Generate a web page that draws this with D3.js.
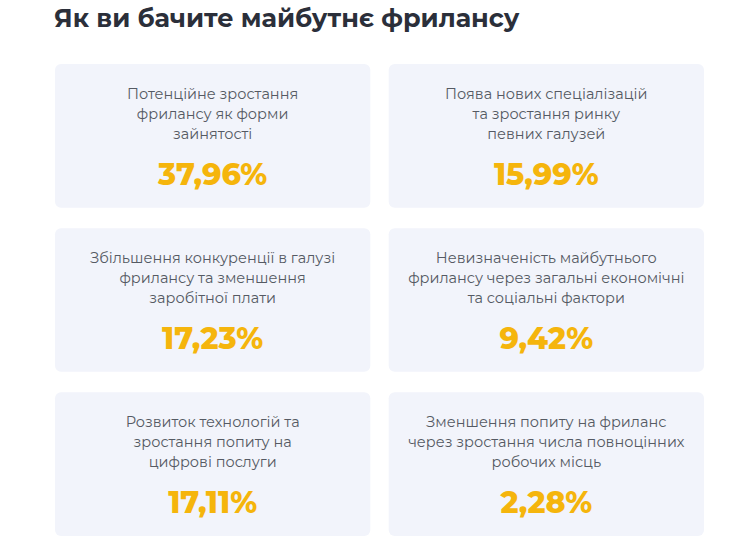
<!DOCTYPE html><html><head><meta charset="utf-8">
<script src="https://cdn.jsdelivr.net/npm/d3@7"></script>
<style>body{margin:0;background:#fff}</style></head><body>
<svg id="c" width="750" height="552"></svg>
<script>
const labels = [
 ["Потенційне зростання","фрилансу як форми","зайнятості"],
 ["Поява нових спеціалізацій","та зростання ринку","певних галузей"],
 ["Збільшення конкуренції в галузі","фрилансу та зменшення","заробітної плати"],
 ["Невизначеність майбутнього","фрилансу через загальні економічні","та соціальні фактори"],
 ["Розвиток технологій та","зростання попиту на","цифрові послуги"],
 ["Зменшення попиту на фриланс","через зростання числа повноцінних","робочих місць"]
];
const values = [37.96,15.99,17.23,9.42,17.11,2.28];
const svg = d3.select("#c");
svg.append("text").attr("x",54).attr("y",27).text("Як ви бачите майбутнє фрилансу")
 .attr("font-family","Montserrat, Inter, sans-serif").attr("font-weight",700).attr("font-size",25.5).attr("fill","#2b2f3a");
const x = d3.scaleBand().domain([0,1]).range([55,704]).paddingInner(0.055);
const y = d3.scaleBand().domain([0,1,2]).range([64,536]).paddingInner(0.125);
const fmt = v => d3.format(".2f")(v).replace(".",",")+"%";
const g = svg.selectAll("g.card").data(values).join("g")
 .attr("transform",(d,i)=>`translate(${x(i%2)},${y(Math.floor(i/2))})`);
g.append("rect").attr("width",x.bandwidth()).attr("height",y.bandwidth()).attr("rx",6).attr("fill","#f2f4fb");
g.each(function(d,i){
 const s=d3.select(this);
 labels[i].forEach((l,j)=>s.append("text").attr("x",x.bandwidth()/2).attr("y",35+j*20).attr("text-anchor","middle")
  .attr("font-family","Montserrat, 'Open Sans', sans-serif").attr("font-size",14.5).attr("fill","#555a63").text(l));
 s.append("text").attr("x",x.bandwidth()/2).attr("y",121).attr("text-anchor","middle")
  .attr("font-family","Montserrat, 'Open Sans', sans-serif").attr("font-weight",800).attr("font-size",30).attr("fill","#f5b50c").text(fmt(d));
});
</script></body></html>
